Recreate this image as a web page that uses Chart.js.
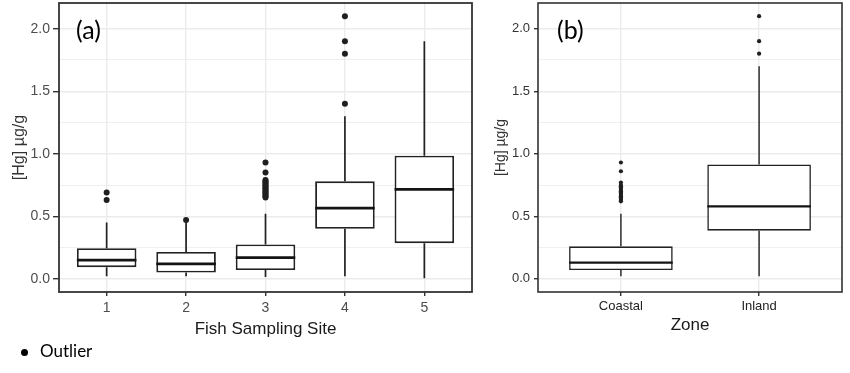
<!DOCTYPE html>
<html>
<head>
<meta charset="utf-8">
<script src="https://cdn.jsdelivr.net/npm/chart.js@4.4.1/dist/chart.umd.min.js"></script>
<style>
html,body{margin:0;padding:0;background:#fff;width:850px;height:373px;overflow:hidden;position:relative;}
#ca{position:absolute;left:0;top:0;}
#cb{position:absolute;left:478px;top:0;}
.tag{position:absolute;font-family:Lato,"Open Sans",sans-serif;font-size:25px;line-height:1;color:#000;}
.legdot{position:absolute;left:21px;top:349px;width:7px;height:7px;border-radius:50%;background:#000;}
.legtxt{position:absolute;left:40px;top:341px;font-family:Lato,"Open Sans",sans-serif;font-size:17px;line-height:20px;color:#000;}
</style>
</head>
<body>
<canvas id="ca" width="480" height="373"></canvas>
<canvas id="cb" width="372" height="373"></canvas>
<div class="tag" style="left:76px;top:17px;">(a)</div>
<div class="tag" style="left:557px;top:17px;">(b)</div>
<div class="legdot"></div>
<div class="legtxt">Outlier</div>
<script>
// ---- Panel (a): Fish Sampling Site ----
const sites = ['1', '2', '3', '4', '5'];
const siteLow = [0.02, 0.02, 0.015, 0.02, 0.005];
const siteQ1 = [0.093, 0.05, 0.07, 0.40, 0.285];
const siteMedian = [0.15, 0.12, 0.17, 0.565, 0.715];
const siteQ3 = [0.245, 0.215, 0.275, 0.78, 0.985];
const siteHigh = [0.45, 0.45, 0.52, 1.30, 1.90];
const siteOutliers = [
  [0.69, 0.63],
  [0.47],
  [0.93, 0.85, 0.79, 0.78, 0.77, 0.76, 0.75, 0.74, 0.73, 0.72, 0.71, 0.70, 0.69, 0.68, 0.67, 0.66, 0.65],
  [2.10, 1.90, 1.80, 1.40],
  []
];

// ---- Panel (b): Zone ----
const zones = ['Coastal', 'Inland'];
const zoneLow = [0.02, 0.02];
const zoneQ1 = [0.07, 0.385];
const zoneMedian = [0.13, 0.58];
const zoneQ3 = [0.26, 0.915];
const zoneHigh = [0.52, 1.70];
const zoneOutliers = [
  [0.93, 0.86, 0.77, 0.75, 0.74, 0.73, 0.72, 0.71, 0.70, 0.69, 0.68, 0.67, 0.66, 0.65, 0.64, 0.63, 0.62],
  [2.10, 1.90, 1.80]
];

// ---- Axis ticks ----
const yMajor = [0, 0.5, 1.0, 1.5, 2.0];
const yTickLabels = ['0.0', '0.5', '1.0', '1.5', '2.0'];
const yMinor = [0.25, 0.75, 1.25, 1.75];
const yRange = [-0.105, 2.205];

const FAM = "'Liberation Sans', Arial, sans-serif";
const LINE = '#222222';

function buildDatasets(cats, low, q1, med, q3, high, outs, st) {
  const HW = 0.375;
  const boxes = cats.map((c, i) => ({x: i + 1, y: [q1[i], q3[i]]}));
  const whiskers = [];
  const medians = [];
  const outliers = [];
  cats.forEach((c, i) => {
    whiskers.push({x: i + 1, y: low[i]}, {x: i + 1, y: q1[i]}, {x: i + 1, y: null},
                  {x: i + 1, y: q3[i]}, {x: i + 1, y: high[i]}, {x: i + 1, y: null});
    medians.push({x: i + 1 - HW, y: med[i]}, {x: i + 1 + HW, y: med[i]}, {x: i + 1, y: null});
    outs[i].forEach(v => outliers.push({x: i + 1, y: v}));
  });
  return [
    {type: 'line', label: 'whisker', data: whiskers, borderColor: LINE, borderWidth: st.whisker,
     pointRadius: 0, spanGaps: false, fill: false, tension: 0, order: 4},
    {type: 'bar', label: 'box', data: boxes, backgroundColor: '#ffffff', borderColor: LINE,
     borderWidth: st.box, borderSkipped: false, barPercentage: 0.75, categoryPercentage: 1, order: 3},
    {type: 'line', label: 'median', data: medians, borderColor: '#141414', borderWidth: st.median,
     pointRadius: 0, spanGaps: false, fill: false, tension: 0, order: 2},
    {type: 'scatter', label: 'Outlier', data: outliers, backgroundColor: '#1f1f1f',
     borderWidth: 0, pointRadius: st.point, pointHoverRadius: st.point, order: 1}
  ];
}

function framePlugin(w) {
  return {
    id: 'frame',
    afterDraw(chart) {
      const {ctx, chartArea: a} = chart;
      ctx.save();
      ctx.strokeStyle = '#333';
      ctx.lineWidth = w;
      ctx.strokeRect(a.left, a.top, a.right - a.left, a.bottom - a.top);
      ctx.restore();
    }
  };
}

function yScale(o) {
  return {
    type: 'linear', min: yRange[0], max: yRange[1], offset: false,
    afterBuildTicks: s => { s.ticks = yMajor.concat(yMinor).sort((p, q) => p - q).map(v => ({value: v})); },
    afterFit: s => { s.width = o.width; s.paddingTop = 0; s.paddingBottom = 0; },
    ticks: {
      autoSkip: false,
      callback: v => { const k = yMajor.indexOf(v); return k >= 0 ? yTickLabels[k] : ''; },
      font: {family: FAM, size: o.tickSize}, color: o.tickColor, padding: o.tickPad
    },
    grid: {
      offset: false,
      color: '#ebebeb',
      lineWidth: c => (c.tick && yMajor.includes(c.tick.value)) ? 1.4 : 0.8,
      tickColor: c => (c.tick && yMajor.includes(c.tick.value)) ? '#333' : 'rgba(0,0,0,0)',
      tickLength: o.tickLen
    },
    border: {display: false},
    title: {display: true, text: '[Hg] µg/g', font: {family: FAM, size: o.titleSize},
            color: '#333', padding: {top: o.titlePad, bottom: 0}}
  };
}

function xScale(cats, o) {
  return {
    type: 'linear', min: 0.4, max: cats.length + 0.6, offset: false,
    afterBuildTicks: s => { s.ticks = cats.map((c, i) => ({value: i + 1})); },
    afterFit: s => { s.height = o.height; s.paddingLeft = 0; s.paddingRight = 0; },
    ticks: {
      autoSkip: false, maxRotation: 0,
      callback: (v, i) => cats[i],
      font: {family: FAM, size: o.tickSize}, color: o.tickColor, padding: o.tickPad
    },
    grid: {offset: false, color: '#ebebeb', lineWidth: 1.4, tickColor: '#333', tickLength: 4},
    border: {display: false},
    title: {display: true, text: o.title, font: {family: FAM, size: 17}, color: '#1a1a1a',
            padding: {top: 0, bottom: 2}}
  };
}

function makeChart(id, cats, datasets, xo, yo, pad, fw) {
  return new Chart(document.getElementById(id), {
    type: 'line',
    data: {datasets},
    options: {
      responsive: false, animation: false, events: [],
      devicePixelRatio: 1,
      layout: {padding: pad},
      plugins: {legend: {display: false}, tooltip: {enabled: false}},
      scales: {x: xScale(cats, xo), y: yScale(yo)}
    },
    plugins: [framePlugin(fw)]
  });
}

makeChart('ca', sites,
  buildDatasets(sites, siteLow, siteQ1, siteMedian, siteQ3, siteHigh, siteOutliers,
                {whisker: 1.7, box: 1.9, median: 2.8, point: 3}),
  {height: 50, tickSize: 14, tickColor: '#4d4d4d', tickPad: 4, title: 'Fish Sampling Site'},
  {width: 59, tickSize: 14, tickColor: '#4d4d4d', tickPad: 3, tickLen: 6, titleSize: 16, titlePad: 10},
  {left: 0, top: 3, right: 8, bottom: 31}, 1.8);

makeChart('cb', zones,
  buildDatasets(zones, zoneLow, zoneQ1, zoneMedian, zoneQ3, zoneHigh, zoneOutliers,
                {whisker: 1.4, box: 1.6, median: 2.3, point: 2.1}),
  {height: 46, tickSize: 13, tickColor: '#222', tickPad: 3, title: 'Zone'},
  {width: 60, tickSize: 13, tickColor: '#333', tickPad: 4, tickLen: 4, titleSize: 14, titlePad: 15},
  {left: 0, top: 3, right: 8, bottom: 35}, 1.6);
</script>
</body>
</html>
